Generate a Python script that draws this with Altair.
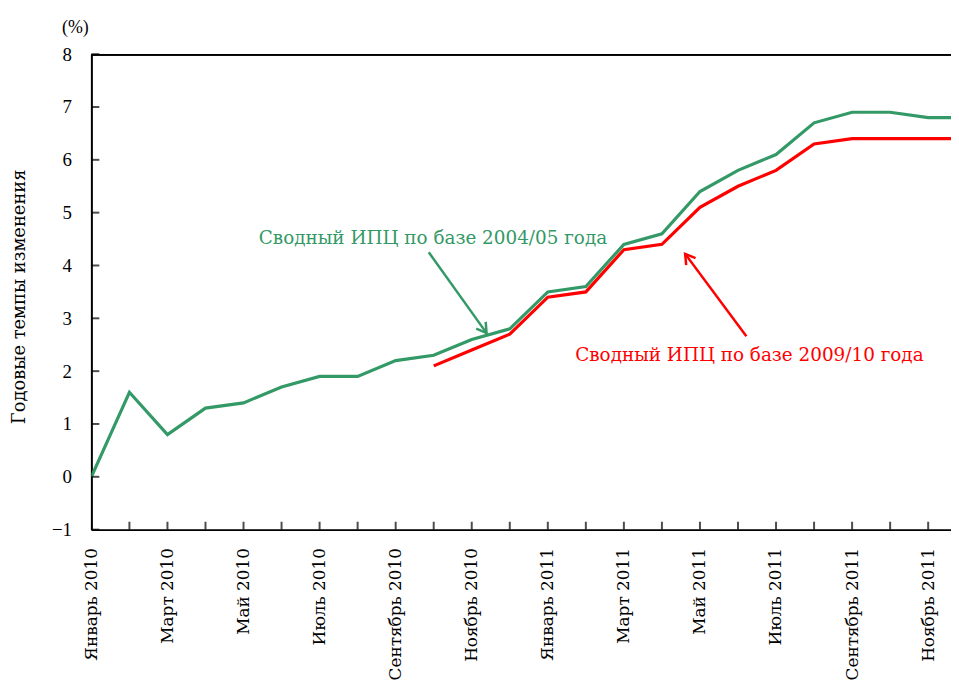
import json
import altair as alt
import pandas as pd

# ---------------- data ----------------
months = [
    "Январь 2010", "Февраль 2010", "Март 2010", "Апрель 2010", "Май 2010", "Июнь 2010",
    "Июль 2010", "Август 2010", "Сентябрь 2010", "Октябрь 2010", "Ноябрь 2010", "Декабрь 2010",
    "Январь 2011", "Февраль 2011", "Март 2011", "Апрель 2011", "Май 2011", "Июнь 2011",
    "Июль 2011", "Август 2011", "Сентябрь 2011", "Октябрь 2011", "Ноябрь 2011", "Декабрь 2011",
]
cpi_base_2004 = [0.0, 1.6, 0.8, 1.3, 1.4, 1.7, 1.9, 1.9, 2.2, 2.3, 2.6, 2.8,
                 3.5, 3.6, 4.4, 4.6, 5.4, 5.8, 6.1, 6.7, 6.9, 6.9, 6.8, 6.8]
cpi_base_2009_start = 9  # Октябрь 2010
cpi_base_2009 = [2.1, 2.4, 2.7, 3.4, 3.5, 4.3, 4.4, 5.1, 5.5, 5.8, 6.3, 6.4, 6.4, 6.4, 6.4]

series_names = ["Сводный ИПЦ по базе 2004/05 года", "Сводный ИПЦ по базе 2009/10 года"]
series_colors = ["#339966", "#ff0000"]
y_ticks = [-1, 0, 1, 2, 3, 4, 5, 6, 7, 8]
x_label_ticks = list(range(0, 24, 2))

# annotation anchors (data units)
ann_text_x = [8.98, 17.3]
ann_text_y = [4.40, 2.20]
arrow_tail_x = [8.87, 17.22]
arrow_tail_y = [4.25, 2.66]
arrow_tip_x = [10.39, 15.61]
arrow_tip_y = [2.72, 4.22]
arrow_angle = [54.5, 233.5]

# ---------------- frames ----------------
rows = []
for i, v in enumerate(cpi_base_2004):
    rows.append({"m": i, "v": v, "s": series_names[0]})
for j, v in enumerate(cpi_base_2009):
    rows.append({"m": cpi_base_2009_start + j, "v": v, "s": series_names[1]})
lines_df = pd.DataFrame(rows)

ann_df = pd.DataFrame({
    "s": series_names, "tx": ann_text_x, "ty": ann_text_y,
    "x0": arrow_tail_x, "y0": arrow_tail_y, "x1": arrow_tip_x, "y1": arrow_tip_y,
    "ang": arrow_angle,
})
xt_df = pd.DataFrame({"m": list(range(len(months)))})
yt_df = pd.DataFrame({"v": y_ticks})

NUM_FONT = "Liberation Serif"
TXT_FONT = "DejaVu Serif"
W, H = 866, 479
X_MAX = 22.6

xscale = alt.Scale(domain=[0, X_MAX], nice=False, zero=False)
yscale = alt.Scale(domain=[-1, 8], nice=False, zero=False)
cscale = alt.Scale(domain=series_names, range=series_colors)

label_expr = json.dumps(months, ensure_ascii=False) + "[datum.value]"

base_x_axis = alt.Axis(
    values=x_label_ticks, labelExpr=label_expr, labelAngle=-90, labelAlign="right",
    labelBaseline="middle", labelFont=TXT_FONT, labelFontSize=17, labelColor="black",
    labelPadding=18, ticks=False, grid=False, domainColor="black", domainWidth=2,
    title=None, labelOverlap=False,
)
base_y_axis = alt.Axis(
    values=y_ticks, labelFont=NUM_FONT, labelFontSize=19, labelColor="black",
    labelPadding=20, ticks=False, grid=False, domainColor="black", domainWidth=2,
    title="Годовые темпы изменения", titleFont=TXT_FONT, titleFontSize=18,
    titleFontWeight="normal", titleColor="black", titleAngle=-90,
    titleX=-72, titleY=244, titleBaseline="middle", titleAlign="center",
)

lines = alt.Chart(lines_df).mark_line(strokeWidth=3.2, clip=True).encode(
    x=alt.X("m:Q", scale=xscale, axis=base_x_axis),
    y=alt.Y("v:Q", scale=yscale, axis=base_y_axis),
    color=alt.Color("s:N", scale=cscale, legend=None),
    detail="s:N",
)

x_ticks = alt.Chart(xt_df).mark_tick(
    orient="vertical", size=8, thickness=2, color="black", yOffset=-4, clip=True
).encode(x=alt.X("m:Q", scale=xscale), y=alt.datum(-1, scale=yscale))

y_ticks_mark = alt.Chart(yt_df).mark_tick(
    orient="horizontal", size=8, thickness=2, color="black", xOffset=4
).encode(y=alt.Y("v:Q", scale=yscale), x=alt.datum(0))

top_border = alt.Chart(yt_df).mark_rule(color="black", strokeWidth=2, clip=True).encode(
    y=alt.datum(8), x=alt.datum(0), x2=alt.datum(23)
)

arrow_lines = alt.Chart(ann_df).mark_rule(strokeWidth=2.5).encode(
    x="x0:Q", y="y0:Q", x2="x1:Q", y2="y1:Q",
    color=alt.Color("s:N", scale=cscale, legend=None),
)
arrow_heads = alt.Chart(ann_df).mark_point(
    shape="M-1,-0.6L0,0L-1,0.6", filled=False, strokeWidth=2.5, size=380, opacity=1
).encode(
    x="x1:Q", y="y1:Q", angle=alt.Angle("ang:Q", scale=None),
    color=alt.Color("s:N", scale=cscale, legend=None),
)
ann_text = alt.Chart(ann_df).mark_text(
    font=TXT_FONT, fontSize=18.5, align="center", baseline="alphabetic"
).encode(
    x="tx:Q", y="ty:Q", text="s:N",
    color=alt.Color("s:N", scale=cscale, legend=None),
)

unit_text = alt.Chart(pd.DataFrame({"t": ["(%)"]})).mark_text(
    font=NUM_FONT, fontSize=18, align="center", baseline="alphabetic", color="black"
).encode(x=alt.datum(-0.42), y=alt.datum(8.41), text="t:N")

chart = alt.layer(
    lines, top_border, x_ticks, y_ticks_mark, arrow_lines, arrow_heads, ann_text, unit_text
).properties(
    width=W, height=H,
    autosize=alt.AutoSizeParams(type="none"),
    padding={"left": 84, "top": 44, "right": 0, "bottom": 152},
).configure_view(stroke=None).configure(background="white")

chart.save("out.html", embed_options={"renderer": "svg", "actions": False})
